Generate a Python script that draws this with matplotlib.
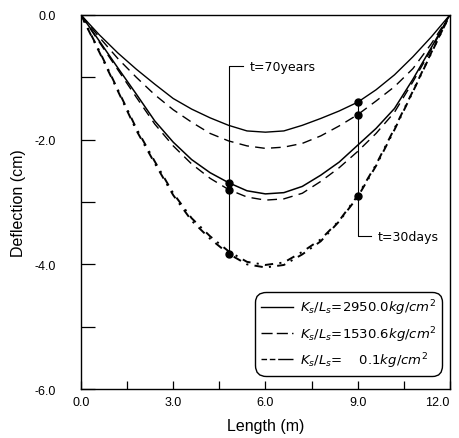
import matplotlib
matplotlib.use('Agg')
import matplotlib.pyplot as plt
from matplotlib.lines import Line2D

# distance along the beam (m)
length = [0.0, 0.6, 1.2, 1.8, 2.4, 3.0, 3.6, 4.2, 4.8, 5.4, 6.0,
          6.6, 7.2, 7.8, 8.4, 9.0, 9.6, 10.2, 10.8, 11.4, 12.0]

# deflection (cm)
k2950_30days = [0.0, -0.32, -0.61, -0.87, -1.11, -1.34, -1.51, -1.65, -1.77, -1.86, -1.88,
                -1.86, -1.77, -1.66, -1.54, -1.40, -1.20, -0.96, -0.67, -0.35, 0.0]
k1530_30days = [0.0, -0.36, -0.70, -1.00, -1.28, -1.52, -1.72, -1.90, -2.02, -2.10, -2.14,
                -2.12, -2.06, -1.94, -1.78, -1.60, -1.38, -1.15, -0.86, -0.46, 0.0]
k2950_70years = [0.0, -0.42, -0.85, -1.27, -1.70, -2.04, -2.32, -2.53, -2.69, -2.82, -2.87,
                 -2.85, -2.75, -2.57, -2.36, -2.09, -1.82, -1.50, -1.03, -0.52, 0.0]
k1530_70years = [0.0, -0.44, -0.88, -1.32, -1.75, -2.10, -2.39, -2.62, -2.80, -2.92, -2.97,
                 -2.95, -2.86, -2.67, -2.45, -2.19, -1.90, -1.56, -1.07, -0.55, 0.0]
k01_30days = [0.0, -0.58, -1.20, -1.82, -2.35, -2.86, -3.26, -3.55, -3.79, -3.96, -4.01,
              -3.97, -3.80, -3.60, -3.30, -2.90, -2.40, -1.82, -1.22, -0.60, 0.0]
k01_70years = [0.0, -0.60, -1.22, -1.85, -2.38, -2.89, -3.30, -3.59, -3.83, -4.00, -4.05,
               -4.01, -3.84, -3.63, -3.31, -2.92, -2.42, -1.84, -1.23, -0.61, 0.0]

legend_labels = [r'$K_s/L_s$=$\mathit{2950.0}$$kg/cm^2$',
                 r'$K_s/L_s$=1530.6$kg/cm^2$',
                 r'$K_s/L_s$=    0.1$kg/cm^2$']

x_ticks = [0.0, 1.5, 3.0, 4.5, 6.0, 7.5, 9.0, 10.5, 12.0]
x_tick_labels = ['0.0', '', '3.0', '', '6.0', '', '9.0', '', '12.0']
y_ticks = [0.0, -1.0, -2.0, -3.0, -4.0, -5.0, -6.0]
y_tick_labels = ['0.0', '', '-2.0', '', '-4.0', '', '-6.0']

i_70 = length.index(4.8)
i_30 = length.index(9.0)

plt.rcParams['lines.scale_dashes'] = False
plt.rcParams['mathtext.fontset'] = 'dejavusans'

fig = plt.figure(figsize=(4.59, 4.39), dpi=100)
ax = fig.add_axes([0.1765, 0.1116, 0.8035, 0.852])

dash = (0, (7, 4.5))

ax.plot(length, k2950_30days, color='black', lw=1.0)
ax.plot(length, k2950_70years, color='black', lw=1.1)
ax.plot(length, k1530_30days, color='black', lw=1.0, linestyle=dash)
ax.plot(length, k1530_70years, color='black', lw=1.0, linestyle=dash)
ax.plot(length, k01_30days, color='black', lw=1.4, linestyle=(0, (6, 4.5, 1.5, 4.5)))
ax.plot(length, k01_70years, color='black', lw=1.4, linestyle=(6, (6, 4.5, 1.5, 4.5)))

# t=70years markers and bracket
ys70 = [k2950_70years[i_70], k1530_70years[i_70], k01_70years[i_70]]
ax.plot([length[i_70]] * 3, ys70, 'o', color='black', ms=5)
ax.plot([length[i_70], length[i_70], 5.27], [k01_70years[i_70], -0.82, -0.82],
        color='black', lw=0.8)
ax.text(5.5, -0.82, 't=70years', fontsize=9, va='center', ha='left')

# t=30days markers and bracket
ys30 = [k2950_30days[i_30], k1530_30days[i_30], k01_30days[i_30]]
ax.plot([length[i_30]] * 3, ys30, 'o', color='black', ms=5)
ax.plot([length[i_30], length[i_30], 9.45], [k2950_30days[i_30], -3.55, -3.55],
        color='black', lw=0.8)
ax.text(9.65, -3.55, 't=30days', fontsize=9, va='center', ha='left')

ax.set_xlim(0, 12)
ax.set_ylim(-6, 0)
ax.set_xticks(x_ticks)
ax.set_xticklabels(x_tick_labels)
ax.set_yticks(y_ticks)
ax.set_yticklabels(y_tick_labels)
ax.tick_params(axis='x', direction='in', length=6, width=0.9, pad=5)
ax.tick_params(axis='y', direction='in', length=10, width=0.9, pad=18)
for lab in ax.get_xticklabels() + ax.get_yticklabels():
    lab.set_family(['Liberation Sans Narrow', 'Liberation Sans'])
    lab.set_fontsize(9)
ax.get_xticklabels()[-1].set_horizontalalignment('right')
for s in ax.spines.values():
    s.set_linewidth(1.0)

ax.set_xlabel('Length (m)', fontsize=11.5, family='Liberation Sans', labelpad=7)
ax.set_ylabel('Deflection (cm)', fontsize=11.5, family='Liberation Sans', labelpad=6)

handles = [Line2D([], [], color='black', lw=1.0),
           Line2D([], [], color='black', lw=1.0, linestyle=(0, (8, 3))),
           Line2D([], [], color='black', lw=1.0, linestyle=(0, (4, 2, 4, 2, 10, 0)))]
leg = ax.legend(handles, legend_labels, loc='lower right', bbox_to_anchor=(0.997, 0.018),
                fontsize=9.5, handlelength=2.4, handletextpad=0.5, labelspacing=0.5,
                borderpad=0.45, fancybox=True, framealpha=1, edgecolor='black')
leg.get_frame().set_linewidth(1.0)
leg.get_frame().set_boxstyle('round', pad=0.0, rounding_size=0.8)

fig.savefig('out.png', dpi=100)
